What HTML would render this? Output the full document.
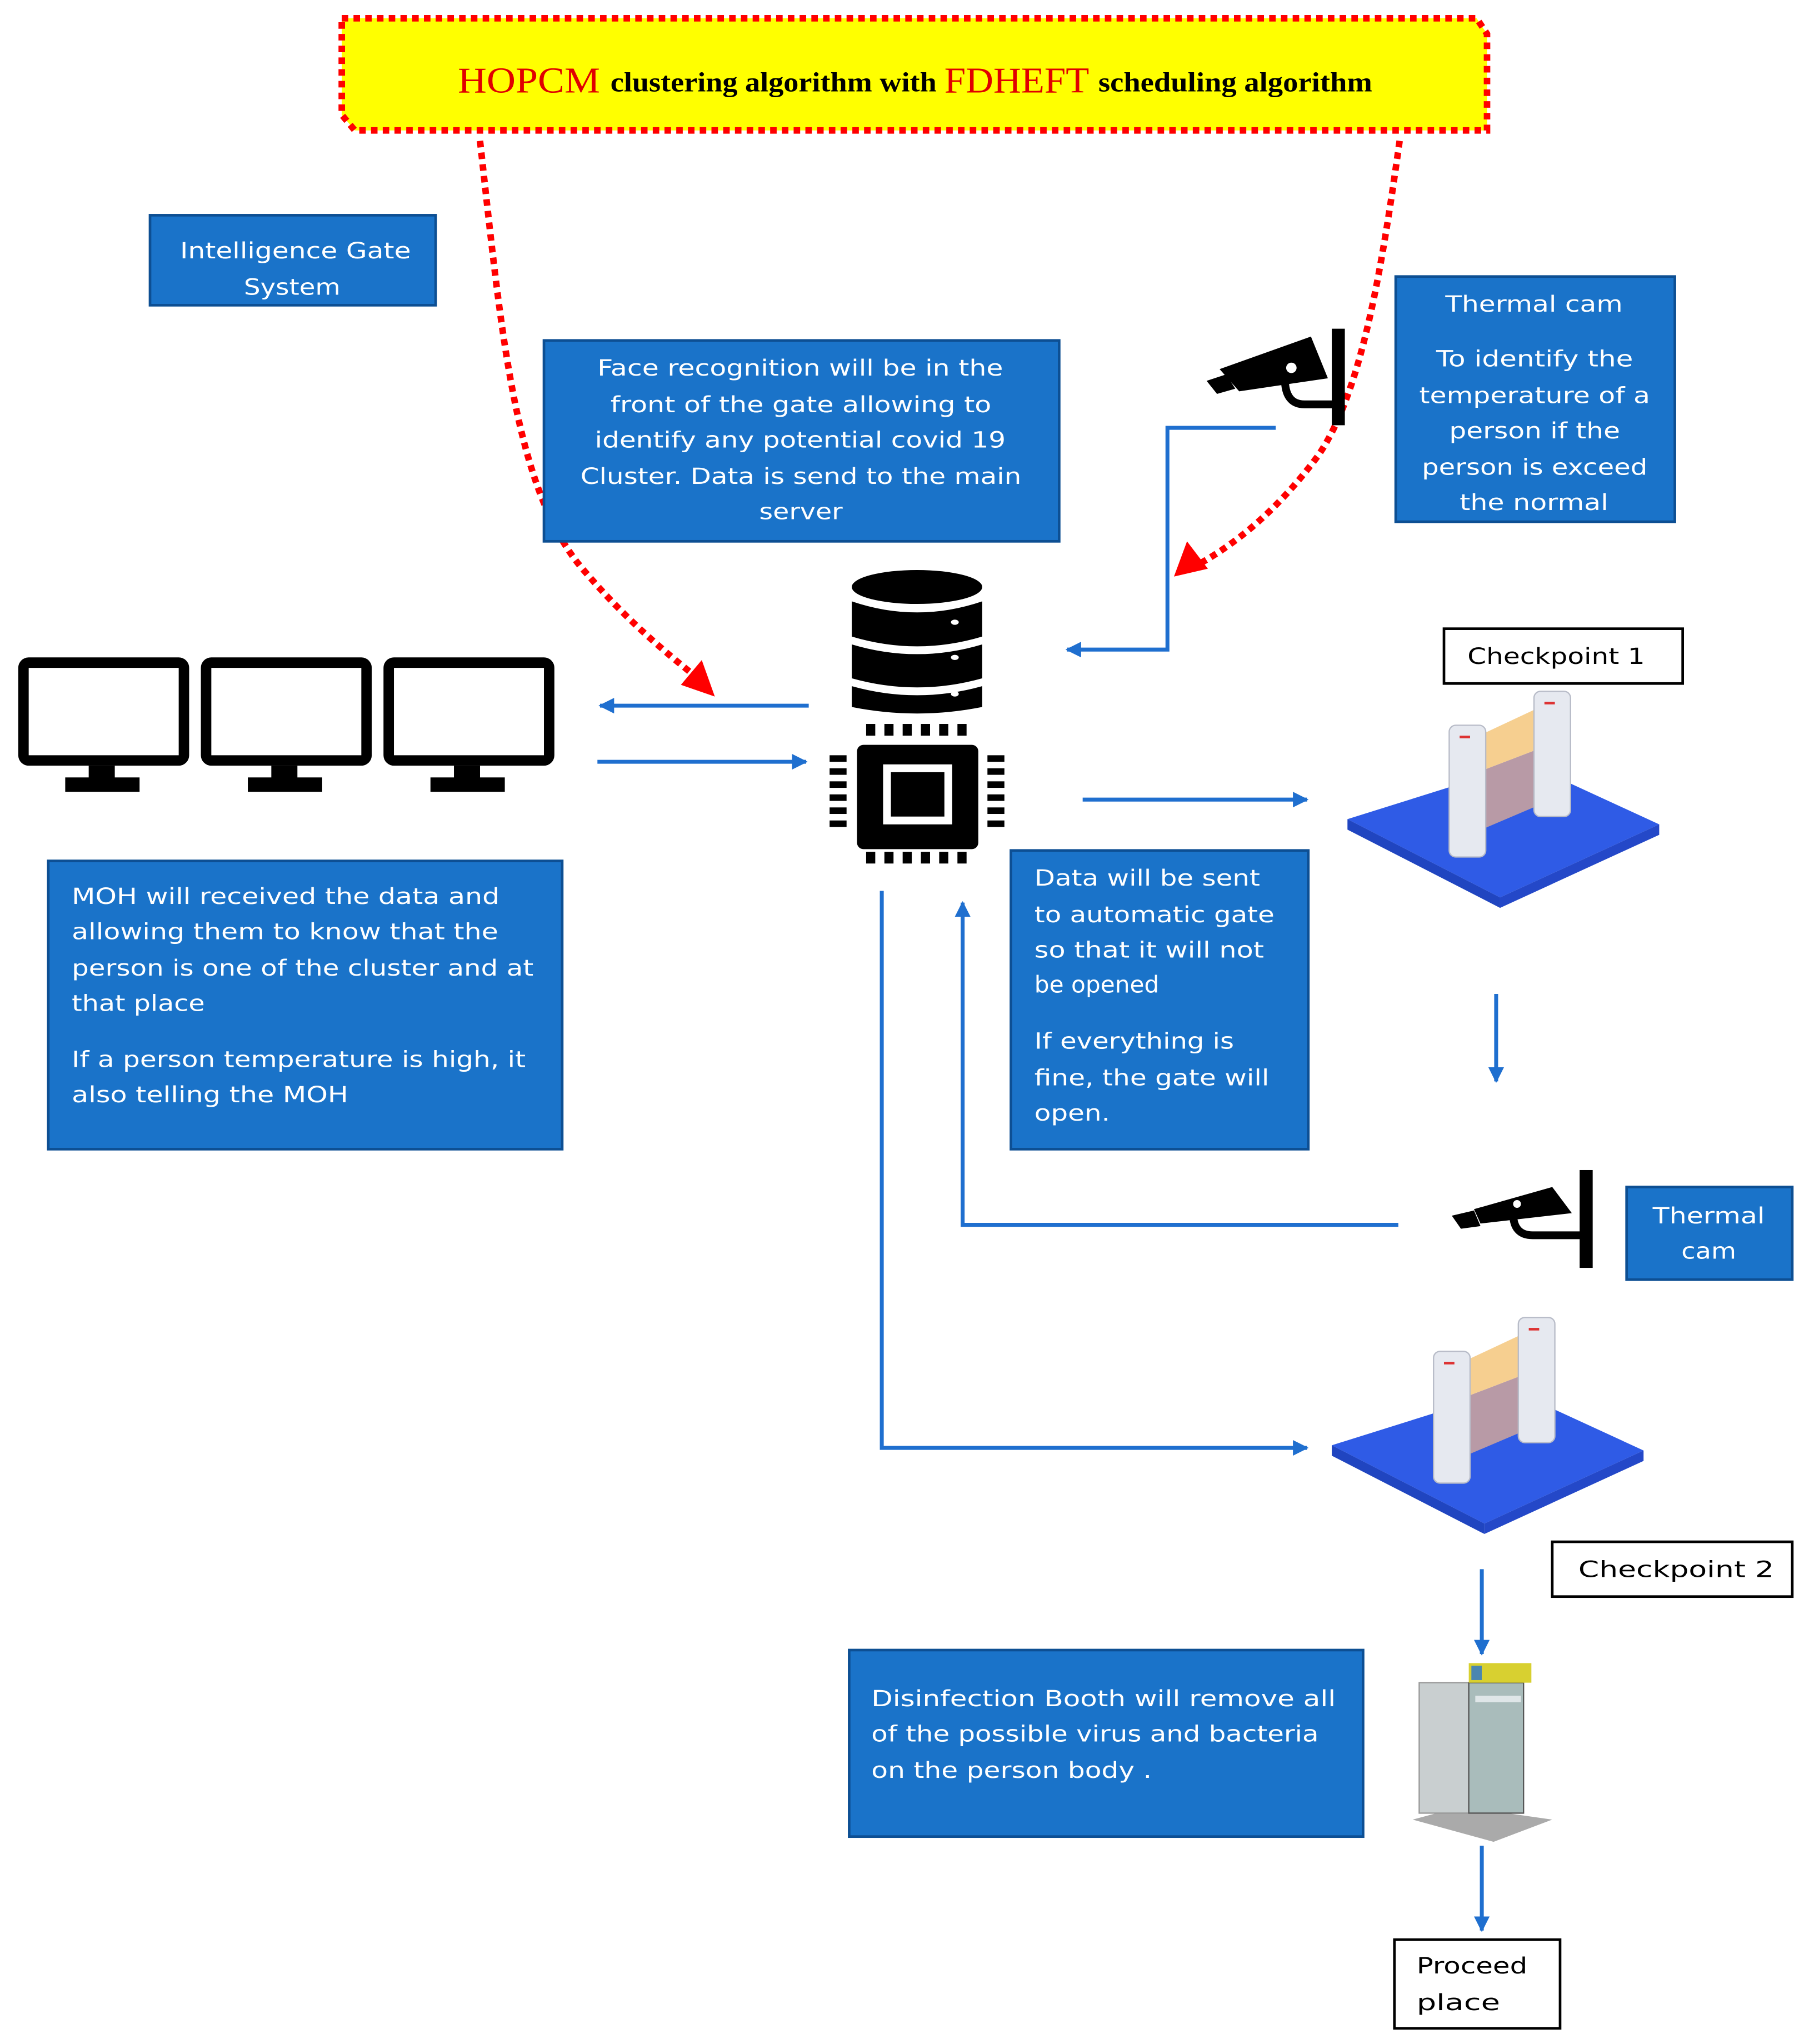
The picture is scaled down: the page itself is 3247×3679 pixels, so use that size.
<!DOCTYPE html>
<html><head><meta charset="utf-8"><style>
html,body{margin:0;padding:0;background:#fff;}
svg{display:block;}
text{font-family:"DejaVu Sans","Liberation Sans",sans-serif;}
.w{fill:#fff;font-size:17px;}
.k{fill:#000;font-size:17px;}
</style></head><body>
<svg width="3247" height="3679" viewBox="0 0 1383 1567" xmlns="http://www.w3.org/2000/svg">
<rect width="1383" height="1567" fill="#fff"/>
<defs>
<marker id="ba" viewBox="0 0 10 10" refX="9" refY="5" markerWidth="4" markerHeight="4" orient="auto"><path d="M0,0 L10,5 L0,10 z" fill="#1f6fcf"/></marker>
</defs>
<path d="M262,14 H1132 L1140,26 V100 H272 L262,88 Z" fill="#ffff00" stroke="#f00" stroke-width="5" stroke-dasharray="5 4"/>
<text x="351" y="71" font-size="28" fill="#e00000" textLength="109" lengthAdjust="spacingAndGlyphs" style="font-family:'Liberation Serif',serif">HOPCM</text>
<text x="468" y="70" font-size="21" font-weight="bold" fill="#000" textLength="250" lengthAdjust="spacingAndGlyphs" style="font-family:'Liberation Serif',serif">clustering algorithm with</text>
<text x="724" y="71" font-size="28" fill="#e00000" textLength="111" lengthAdjust="spacingAndGlyphs" style="font-family:'Liberation Serif',serif">FDHEFT</text>
<text x="842" y="70" font-size="21" font-weight="bold" fill="#000" textLength="210" lengthAdjust="spacingAndGlyphs" style="font-family:'Liberation Serif',serif">scheduling algorithm</text>

<path d="M368,108 C385,260 395,380 450,440 C480,475 510,500 535,520" fill="none" stroke="#f00" stroke-width="5" stroke-dasharray="5 4"/>
<polygon points="548,534 522,525 538,506" fill="#f00"/>
<path d="M1073,108 C1060,200 1045,300 1010,350 C980,390 950,415 920,432" fill="none" stroke="#f00" stroke-width="5" stroke-dasharray="5 4"/>
<polygon points="900,442 910,415 926,436" fill="#f00"/>

<g fill="#1a73c9" stroke="#0d4f93" stroke-width="2">
<rect x="115" y="165" width="219" height="69"/>
<rect x="417" y="261" width="395" height="154"/>
<rect x="1070" y="212" width="214" height="188"/>
<rect x="37" y="660" width="394" height="221"/>
<rect x="775" y="652" width="228" height="229"/>
<rect x="1247" y="910" width="127" height="71"/>
<rect x="651" y="1265" width="394" height="143"/>
</g>
<g fill="#fff" stroke="#000" stroke-width="2">
<rect x="1107" y="482" width="183" height="42"/>
<rect x="1190" y="1182" width="184" height="42"/>
<rect x="1069" y="1487" width="127" height="68"/>
</g>

<text class="w" x="138" y="198" textLength="177" lengthAdjust="spacingAndGlyphs">Intelligence Gate</text>
<text class="w" x="187" y="226" textLength="74" lengthAdjust="spacingAndGlyphs">System</text>

<text class="w" x="458" y="288" textLength="311" lengthAdjust="spacingAndGlyphs">Face recognition will be in the</text>
<text class="w" x="468" y="316" textLength="292" lengthAdjust="spacingAndGlyphs">front of the gate allowing to</text>
<text class="w" x="456" y="343" textLength="315" lengthAdjust="spacingAndGlyphs">identify any potential covid 19</text>
<text class="w" x="445" y="371" textLength="338" lengthAdjust="spacingAndGlyphs">Cluster. Data is send to the main</text>
<text class="w" x="582" y="398" textLength="64" lengthAdjust="spacingAndGlyphs">server</text>

<text class="w" x="1108" y="239" textLength="136" lengthAdjust="spacingAndGlyphs">Thermal cam</text>
<text class="w" x="1101" y="281" textLength="151" lengthAdjust="spacingAndGlyphs">To identify the</text>
<text class="w" x="1088" y="309" textLength="177" lengthAdjust="spacingAndGlyphs">temperature of a</text>
<text class="w" x="1111" y="336" textLength="131" lengthAdjust="spacingAndGlyphs">person if the</text>
<text class="w" x="1090" y="364" textLength="173" lengthAdjust="spacingAndGlyphs">person is exceed</text>
<text class="w" x="1119" y="391" textLength="114" lengthAdjust="spacingAndGlyphs">the normal</text>

<text class="w" x="55" y="693" textLength="328" lengthAdjust="spacingAndGlyphs">MOH will received the data and</text>
<text class="w" x="55" y="720" textLength="327" lengthAdjust="spacingAndGlyphs">allowing them to know that the</text>
<text class="w" x="55" y="748" textLength="354" lengthAdjust="spacingAndGlyphs">person is one of the cluster and at</text>
<text class="w" x="55" y="775" textLength="102" lengthAdjust="spacingAndGlyphs">that place</text>
<text class="w" x="55" y="818" textLength="348" lengthAdjust="spacingAndGlyphs">If a person temperature is high, it</text>
<text class="w" x="55" y="845" textLength="212" lengthAdjust="spacingAndGlyphs">also telling the MOH</text>

<text class="w" x="793" y="679" textLength="173" lengthAdjust="spacingAndGlyphs">Data will be sent</text>
<text class="w" x="793" y="707" textLength="184" lengthAdjust="spacingAndGlyphs">to automatic gate</text>
<text class="w" x="793" y="734" textLength="176" lengthAdjust="spacingAndGlyphs">so that it will not</text>
<text x="793" y="761" fill="#fff" font-size="18" style="font-family:'DejaVu Sans',sans-serif;font-size:18px">be opened</text>
<text class="w" x="793" y="804" textLength="153" lengthAdjust="spacingAndGlyphs">If everything is</text>
<text class="w" x="793" y="832" textLength="180" lengthAdjust="spacingAndGlyphs">fine, the gate will</text>
<text class="w" x="793" y="859" textLength="58" lengthAdjust="spacingAndGlyphs">open.</text>

<text class="w" x="1267" y="938" textLength="86" lengthAdjust="spacingAndGlyphs">Thermal</text>
<text class="w" x="1289" y="965" textLength="42" lengthAdjust="spacingAndGlyphs">cam</text>

<text class="w" x="668" y="1308" textLength="356" lengthAdjust="spacingAndGlyphs">Disinfection Booth will remove  all</text>
<text class="w" x="668" y="1335" textLength="343" lengthAdjust="spacingAndGlyphs">of the possible virus and bacteria</text>
<text class="w" x="668" y="1363" textLength="215" lengthAdjust="spacingAndGlyphs">on the person body .</text>

<text class="k" x="1125" y="509" textLength="136" lengthAdjust="spacingAndGlyphs">Checkpoint 1</text>
<text class="k" x="1210" y="1209" textLength="150" lengthAdjust="spacingAndGlyphs">Checkpoint 2</text>
<text class="k" x="1086" y="1513" textLength="85" lengthAdjust="spacingAndGlyphs">Proceed</text>
<text class="k" x="1086" y="1541" textLength="64" lengthAdjust="spacingAndGlyphs">place</text>

<g fill="none" stroke="#1f6fcf" stroke-width="3">
<polyline points="978,328 895,328 895,498 818,498" marker-end="url(#ba)"/>
<line x1="620" y1="541" x2="460" y2="541" marker-end="url(#ba)"/>
<line x1="458" y1="584" x2="618" y2="584" marker-end="url(#ba)"/>
<line x1="830" y1="613" x2="1002" y2="613" marker-end="url(#ba)"/>
<line x1="1147" y1="762" x2="1147" y2="829" marker-end="url(#ba)"/>
<polyline points="1072,939 738,939 738,692" marker-end="url(#ba)"/>
<polyline points="676,683 676,1110 1002,1110" marker-end="url(#ba)"/>
<line x1="1136" y1="1203" x2="1136" y2="1268" marker-end="url(#ba)"/>
<line x1="1136" y1="1415" x2="1136" y2="1480" marker-end="url(#ba)"/>
</g>

<g id="mon">
<rect x="18" y="508" width="123" height="75" rx="4" fill="none" stroke="#000" stroke-width="8"/>
<rect x="68" y="587" width="20" height="10" fill="#000"/>
<rect x="50" y="596" width="57" height="11" fill="#000"/>
</g>
<use href="#mon" x="140"/>
<use href="#mon" x="280"/>

<g fill="#000">
<ellipse cx="703" cy="450" rx="50" ry="13"/>
<path d="M653,461 Q703,478 753,461 V488 Q703,503 653,488 Z"/>
<path d="M653,494 Q703,509 753,494 V520 Q703,534 653,520 Z"/>
<path d="M653,526 Q703,540 753,526 V542 Q703,552 653,542 Z"/>
</g>
<g fill="#fff"><ellipse cx="732" cy="477" rx="3" ry="2"/><ellipse cx="732" cy="504" rx="3" ry="2"/><ellipse cx="732" cy="532" rx="3" ry="2"/></g>
<g fill="#000">
<rect x="657" y="571" width="93" height="80" rx="5"/>
<g id="pt"><rect x="664" y="555" width="7" height="9"/><rect x="678" y="555" width="7" height="9"/><rect x="692" y="555" width="7" height="9"/><rect x="706" y="555" width="7" height="9"/><rect x="720" y="555" width="7" height="9"/><rect x="734" y="555" width="7" height="9"/></g>
<use href="#pt" y="98"/>
<g id="ps"><rect x="636" y="579" width="13" height="5"/><rect x="636" y="589" width="13" height="5"/><rect x="636" y="599" width="13" height="5"/><rect x="636" y="609" width="13" height="5"/><rect x="636" y="619" width="13" height="5"/><rect x="636" y="629" width="13" height="5"/></g>
<use href="#ps" x="121"/>
</g>
<rect x="680" y="589" width="47" height="40" fill="none" stroke="#fff" stroke-width="6"/>

<g fill="#000">
<path d="M935,283 L1005,258 L1018,290 L950,300 Z"/>
<path d="M925,292 L940,287 L947,298 L933,302 Z"/>
<path d="M985,290 Q985,310 1000,310 L1022,310" fill="none" stroke="#000" stroke-width="6"/>
<rect x="1021" y="252" width="10" height="74"/>
<path d="M1130,927 L1190,910 L1205,930 L1135,938 Z"/>
<path d="M1113,932 L1130,928 L1135,940 L1120,942 Z"/>
<path d="M1160,930 Q1160,947 1175,947 L1212,947" fill="none" stroke="#000" stroke-width="6"/>
<rect x="1211" y="897" width="10" height="75"/>
</g>
<circle cx="990" cy="282" r="4" fill="#fff"/>
<circle cx="1163" cy="923" r="3" fill="#fff"/>

<g id="gate">
<polygon points="1033,628 1170,585 1272,632 1150,688" fill="#2f5be6"/>
<polygon points="1033,628 1150,688 1150,696 1033,636" fill="#2045c0"/>
<polygon points="1150,688 1272,632 1272,640 1150,696" fill="#2448c8"/>
<polygon points="1138,590 1185,572 1185,615 1138,635" fill="#b89aa6"/>
<polygon points="1138,590 1185,572 1185,540 1138,562" fill="#f6cf90"/>
<rect x="1176" y="530" width="28" height="96" rx="5" fill="#e6e9f0" stroke="#b8bcc8"/>
<rect x="1111" y="556" width="28" height="101" rx="5" fill="#e6e9f0" stroke="#b8bcc8"/>
<rect x="1119" y="564" width="8" height="2" fill="#d33"/>
<rect x="1184" y="538" width="8" height="2" fill="#d33"/>
</g>
<use href="#gate" x="-12" y="480"/>

<g>
<polygon points="1083,1395 1120,1385 1190,1395 1145,1412" fill="#aaa"/>
<rect x="1088" y="1290" width="38" height="100" fill="#c9cfd0" stroke="#999"/>
<rect x="1126" y="1290" width="42" height="100" fill="#a9bcbb" stroke="#555"/>
<rect x="1126" y="1275" width="48" height="15" fill="#d8d030"/>
<rect x="1128" y="1277" width="8" height="11" fill="#4a86b0"/>
<rect x="1131" y="1300" width="35" height="5" fill="#dfe6e8"/>
</g>
</svg>
</body></html>
